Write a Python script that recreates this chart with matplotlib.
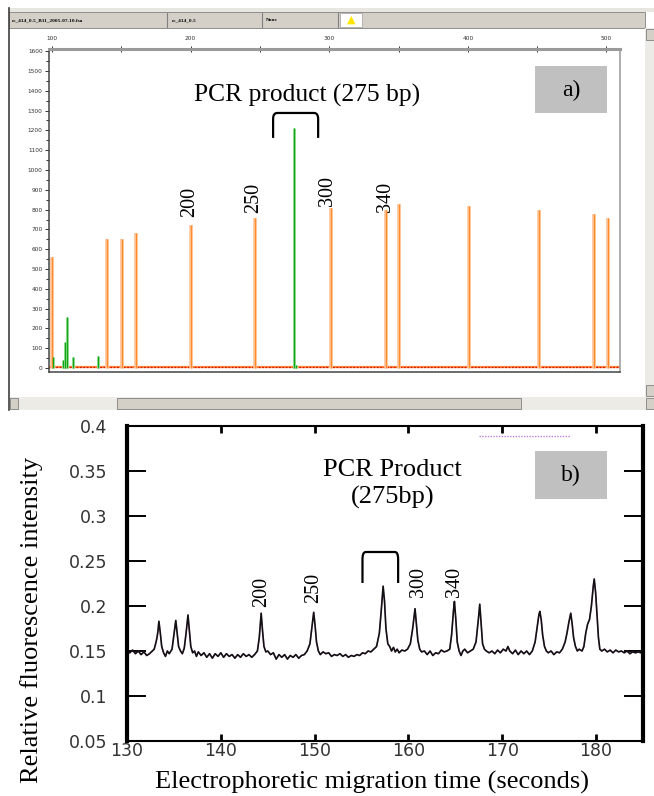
import matplotlib.pyplot as plt
from matplotlib.patches import Rectangle, PathPatch
from matplotlib.path import Path

W, H = 654, 796

# ---- panel a data ----
std_bp = [100.2, 139.7, 150.5, 160.6, 200.3, 246.5, 301.3, 341.0, 350.4, 400.9, 451.4, 491.0, 501.0]
std_rfu = [560, 650, 650, 680, 720, 760, 810, 800, 830, 820, 800, 780, 760]
sample_bp = [100.7, 107.9, 109.4, 110.8, 115.2, 133.2, 274.6, 276.0]
sample_rfu = [55, 40, 130, 260, 55, 60, 1210, 15]
a_label_txt = ["200", "250", "300", "340"]
a_label_bp = [199.6, 245.7, 298.4, 340.3]
a_label_rfu = [838, 859, 894, 864]

# ---- panel b data (trace) ----
trace_t = [130.0, 130.3, 130.6, 130.9, 131.2, 131.5, 131.8, 132.1, 132.4, 132.7,
           132.9, 133.1, 133.2, 133.3, 133.4, 133.55, 133.7, 133.9, 134.1, 134.3, 134.5,
           134.8, 135.0, 135.2, 135.35, 135.5, 135.7, 135.9, 136.1,
           136.3, 136.5, 136.65, 136.8, 137.0, 137.2, 137.4,
           137.6, 137.9, 138.2, 138.5, 138.8, 139.1, 139.4, 139.7, 140.0, 140.3, 140.6,
           140.9, 141.2, 141.5, 141.8, 142.1, 142.4, 142.7, 143.0, 143.3, 143.6,
           143.9, 144.1, 144.3, 144.45, 144.6, 144.8, 145.0, 145.3, 145.6, 145.9, 146.2,
           146.5, 146.8, 147.1, 147.4, 147.7, 148.0, 148.3, 148.6, 148.9, 149.2,
           149.5, 149.7, 149.9, 150.05, 150.2, 150.4, 150.6, 150.9, 151.2, 151.5, 151.8,
           152.1, 152.4, 152.7, 153.0, 153.3, 153.6, 153.9, 154.2, 154.5, 154.8, 155.1,
           155.4, 155.7, 156.0, 156.3,
           156.6, 156.9, 157.1, 157.3, 157.45, 157.6, 157.8, 158.0, 158.2, 158.4, 158.6,
           158.8, 159.0, 159.3, 159.6, 159.9,
           160.2, 160.45, 160.7, 160.85, 161.0, 161.2, 161.4, 161.7, 162.0, 162.3, 162.6,
           162.9, 163.2, 163.5, 163.8, 164.1, 164.4,
           164.6, 164.8, 164.9, 165.05, 165.2, 165.4, 165.6, 165.8, 166.0, 166.3, 166.6, 166.9,
           167.2, 167.45, 167.6, 167.75, 167.9, 168.1, 168.3, 168.6, 168.9, 169.2, 169.5,
           169.8, 170.1, 170.4, 170.6, 170.8, 171.1, 171.4, 171.7, 172.0, 172.3, 172.6,
           172.9, 173.2, 173.5,
           173.7, 173.9, 174.0, 174.15, 174.3, 174.5, 174.7, 174.9, 175.2, 175.5, 175.8,
           176.1, 176.4, 176.7,
           176.9, 177.1, 177.3, 177.45, 177.6, 177.8, 178.0, 178.2, 178.5, 178.7, 178.9,
           179.1, 179.3, 179.5,
           179.7, 179.8, 179.95, 180.1, 180.25, 180.4, 180.6, 180.9, 181.2, 181.5, 181.8,
           182.1, 182.4, 182.7, 183.0, 183.3, 183.6, 183.9, 184.2, 184.5, 184.8, 185.0]
trace_v = [0.150, 0.148, 0.151, 0.147, 0.150, 0.146, 0.149, 0.145, 0.147, 0.150,
           0.152, 0.160, 0.165, 0.172, 0.183, 0.170, 0.155, 0.148, 0.144, 0.150, 0.147,
           0.152, 0.168, 0.184, 0.170, 0.155, 0.150, 0.147, 0.153,
           0.170, 0.190, 0.172, 0.155, 0.148, 0.150, 0.144,
           0.149, 0.145, 0.148, 0.143, 0.147, 0.142, 0.147, 0.144, 0.148, 0.143, 0.147,
           0.144, 0.146, 0.142, 0.146, 0.143, 0.147, 0.144, 0.146, 0.143, 0.146,
           0.150, 0.165, 0.192, 0.172, 0.155, 0.149, 0.150, 0.146, 0.148, 0.141, 0.146,
           0.143, 0.146, 0.141, 0.145, 0.143, 0.146, 0.142, 0.145, 0.146, 0.150,
           0.158, 0.175, 0.193, 0.178, 0.160, 0.150, 0.146, 0.149, 0.147, 0.148, 0.144,
           0.146, 0.145, 0.147, 0.144, 0.146, 0.143, 0.145, 0.144, 0.146, 0.145, 0.148,
           0.147, 0.150, 0.149, 0.152,
           0.155, 0.170, 0.195, 0.222, 0.205, 0.175, 0.158, 0.155, 0.150, 0.154, 0.149,
           0.152, 0.148, 0.151, 0.150, 0.152,
           0.158, 0.175, 0.197, 0.180, 0.162, 0.152, 0.149, 0.150, 0.146, 0.150, 0.145,
           0.148, 0.147, 0.151, 0.149, 0.150, 0.152,
           0.168, 0.195, 0.205, 0.185, 0.160, 0.150, 0.145, 0.150, 0.152, 0.148, 0.150, 0.152,
           0.160, 0.185, 0.202, 0.180, 0.158, 0.152, 0.150, 0.148, 0.150, 0.147, 0.151,
           0.148, 0.152, 0.150, 0.155, 0.150, 0.147, 0.151, 0.146, 0.150, 0.147, 0.150,
           0.146, 0.150, 0.160,
           0.175, 0.190, 0.194, 0.185, 0.168, 0.155, 0.150, 0.148, 0.150, 0.146, 0.149,
           0.148, 0.152, 0.160,
           0.170, 0.182, 0.192, 0.180, 0.165, 0.155, 0.150, 0.152, 0.150, 0.155, 0.170,
           0.180, 0.185, 0.200,
           0.222, 0.230, 0.215, 0.190, 0.165, 0.152, 0.150, 0.152, 0.149, 0.151, 0.148,
           0.151, 0.149, 0.150, 0.148, 0.150, 0.147, 0.149, 0.148, 0.149, 0.148, 0.148]
b_label_txt = ["200", "250", "300", "340"]
b_label_t = [144.3, 149.9, 161.1, 164.9]
b_label_v = [0.2156, 0.220, 0.2267, 0.2267]
b_yticks = [0.05, 0.1, 0.15, 0.2, 0.25, 0.3, 0.35, 0.4]
b_ylabels = ["0.05", "0.1", "0.15", "0.2", "0.25", "0.3", "0.35", "0.4"]
b_xticks = [130, 140, 150, 160, 170, 180]

serif = "Liberation Serif"


def fx(x):
    return x / W


def fy(y):
    return 1 - y / H


def frect(fig, x0, y0, x1, y1, **kw):
    r = Rectangle((fx(x0), fy(y1)), (x1 - x0) / W, (y1 - y0) / H,
                  transform=fig.transFigure, **kw)
    fig.add_artist(r)
    return r


def bracket(ax, x0, x1, ylo, yhi, r):
    # rounded "[ ]" shaped bracket
    verts = [(x0, ylo), (x0, yhi - r[1]), (x0, yhi), (x0 + r[0], yhi),
             (x1 - r[0], yhi), (x1, yhi), (x1, yhi - r[1]), (x1, ylo)]
    codes = [Path.MOVETO, Path.LINETO, Path.CURVE3, Path.CURVE3,
             Path.LINETO, Path.CURVE3, Path.CURVE3, Path.LINETO]
    ax.add_patch(PathPatch(Path(verts, codes), fill=False, lw=1.6, color="black",
                           capstyle="butt"))


fig = plt.figure(figsize=(W / 100, H / 100), dpi=100)

# ---------------- panel a : analyser window ----------------
frect(fig, 8, 8, 654, 410, facecolor="white", edgecolor="none", zorder=0)
frect(fig, 8, 8, 654, 12, facecolor="#e8e6e0", edgecolor="none", zorder=0)
frect(fig, 9, 12, 645, 28, facecolor="#d4d0c8", edgecolor="#808080", lw=0.6, zorder=0)
for sx in [167, 262, 338]:
    fig.add_artist(plt.Line2D([fx(sx), fx(sx)], [fy(13), fy(27)], color="#808080", lw=0.8,
                              transform=fig.transFigure))
frect(fig, 340, 13, 362, 27, facecolor="white", edgecolor="#a0a0a0", lw=0.5, zorder=1)
fig.text(fx(351), fy(20), "\u25b2", color="#ffe600", fontsize=8, ha="center", va="center")
for tx, s in [(12, "cc_414_0.5_B11_2005-07-10.fsa"), (172, "cc_414_0.5"), (266, "None")]:
    fig.text(fx(tx), fy(20), s, fontsize=3.8, fontweight="bold", family=serif,
             ha="left", va="center")
# left window border
fig.add_artist(plt.Line2D([fx(9), fx(9)], [fy(8), fy(410)], color="#404040", lw=1.2,
                          transform=fig.transFigure))
# scrollbars
frect(fig, 645, 28, 654, 397, facecolor="#ecebe6", edgecolor="none", zorder=0)
frect(fig, 9, 397, 654, 410, facecolor="#ecebe6", edgecolor="none", zorder=0)
frect(fig, 117, 398, 521, 409, facecolor="#d4d0c8", edgecolor="#808080", lw=0.6, zorder=1)
frect(fig, 10, 398, 18, 409, facecolor="#d4d0c8", edgecolor="#808080", lw=0.6, zorder=1)
frect(fig, 646, 398, 654, 409, facecolor="#d4d0c8", edgecolor="#808080", lw=0.6, zorder=1)
frect(fig, 646, 29, 654, 40, facecolor="#d4d0c8", edgecolor="#808080", lw=0.6, zorder=1)
frect(fig, 646, 385, 654, 396, facecolor="#d4d0c8", edgecolor="#808080", lw=0.6, zorder=1)

axa = fig.add_axes([fx(49), fy(372), (620 - 49) / W, (372 - 49) / H])
axa.set_xlim(97.8, 509.8)
axa.set_ylim(-20, 1611)
axa.set_facecolor("none")

# baseline
axa.axhline(3, color="#ff8c3a", lw=1.6, zorder=1)
axa.axhline(7, color="#dd1111", lw=0.9, ls=(0, (1.5, 1.2)), zorder=2)
# size standard (orange) and sample (green) peaks
axa.vlines(std_bp, 0, std_rfu, color="#ffc49a", lw=2.6, zorder=3)
axa.vlines(std_bp, 0, std_rfu, color="#ff8a2a", lw=0.9, zorder=4)
axa.vlines(sample_bp, 0, sample_rfu, color="#9ee09e", lw=2.2, zorder=3)
axa.vlines(sample_bp, 0, sample_rfu, color="#11a611", lw=0.9, zorder=4)

axa.xaxis.tick_top()
axa.set_xticks(range(100, 501, 100))
axa.set_xticks(range(150, 501, 100), minor=True)
axa.set_yticks(range(0, 1601, 100))
axa.set_yticks(range(50, 1601, 100), minor=True)
axa.tick_params(axis="both", which="both", labelsize=4.2, colors="#333333",
                width=0.7, length=3, pad=1.5)
axa.tick_params(axis="x", which="both", direction="inout", length=4, pad=4)
axa.tick_params(axis="y", which="minor", length=2)
for sp in ["left", "bottom"]:
    axa.spines[sp].set_color("#444444")
    axa.spines[sp].set_linewidth(1.1)
axa.spines["top"].set_color("#9a9a9a")
axa.spines["top"].set_linewidth(2.2)
axa.spines["right"].set_color("#a0a0a0")
axa.spines["right"].set_linewidth(1.2)

axa.text(284, 1374, "PCR product (275 bp)", family=serif, fontsize=18.4,
         ha="center", va="center")
bracket(axa, 259.5, 292.0, 1162, 1288, (3.0, 30))
for s, x, y in zip(a_label_txt, a_label_bp, a_label_rfu):
    axa.text(x, y, s, family=serif, fontsize=14.5, rotation=90, ha="center", va="center")
frect(fig, 535, 66, 607, 113, facecolor="#c0c0c0", edgecolor="none", zorder=2)
fig.text(fx(571), fy(90), "a)", family=serif, fontsize=17, ha="center", va="center",
         zorder=3)

# ---------------- panel b : trace ----------------
axb = fig.add_axes([fx(127), fy(741), (643 - 127) / W, (741 - 426) / H])
axb.set_xlim(130, 185)
axb.set_ylim(0.05, 0.4)
axb.plot(trace_t, trace_v, color="#d040d0", lw=1.0, alpha=0.6)
axb.plot(trace_t, trace_v, color="#111111", lw=1.2)

axb.set_yticks(b_yticks)
axb.set_yticklabels(b_ylabels)
axb.set_xticks(b_xticks)
axb.tick_params(axis="y", direction="in", length=14, width=1.4, left=True, right=True,
                labelsize=12.5, pad=14, labelcolor="#333333")
axb.tick_params(axis="x", direction="in", length=5, width=2, top=True, bottom=True,
                labelsize=12.5, pad=0.5, labelcolor="#333333")
for lab in axb.get_xticklabels() + axb.get_yticklabels():
    lab.set_family("DejaVu Sans")
axb.spines["left"].set_linewidth(3)
axb.spines["right"].set_linewidth(3)
axb.spines["top"].set_linewidth(1.5)
axb.spines["bottom"].set_linewidth(1.5)

# faint leftover legend line near the top
axb.plot([167.5, 177.2], [0.389, 0.389], color="#c080e0", lw=1.0, ls=(0, (1, 1)))

axb.text(158.3, 0.3355, "PCR Product\n(275bp)", family=serif, fontsize=19,
         ha="center", va="center", linespacing=1.32)
bracket(axb, 155.1, 158.9, 0.2256, 0.26, (0.35, 0.008))
for s, x, y in zip(b_label_txt, b_label_t, b_label_v):
    axb.text(x, y, s, family=serif, fontsize=14.5, rotation=90, ha="center", va="center")
frect(fig, 535, 451, 607, 499, facecolor="#c0c0c0", edgecolor="none", zorder=2)
fig.text(fx(571), fy(475), "b)", family=serif, fontsize=17, ha="center", va="center",
         zorder=3)

fig.text(fx(32), fy(620), "Relative fluorescence intensity", family=serif, fontsize=19,
         rotation=90, ha="center", va="center")
fig.text(fx(372), fy(782), "Electrophoretic migration time (seconds)", family=serif,
         fontsize=19, ha="center", va="center")

fig.savefig("out.png", dpi=100)
